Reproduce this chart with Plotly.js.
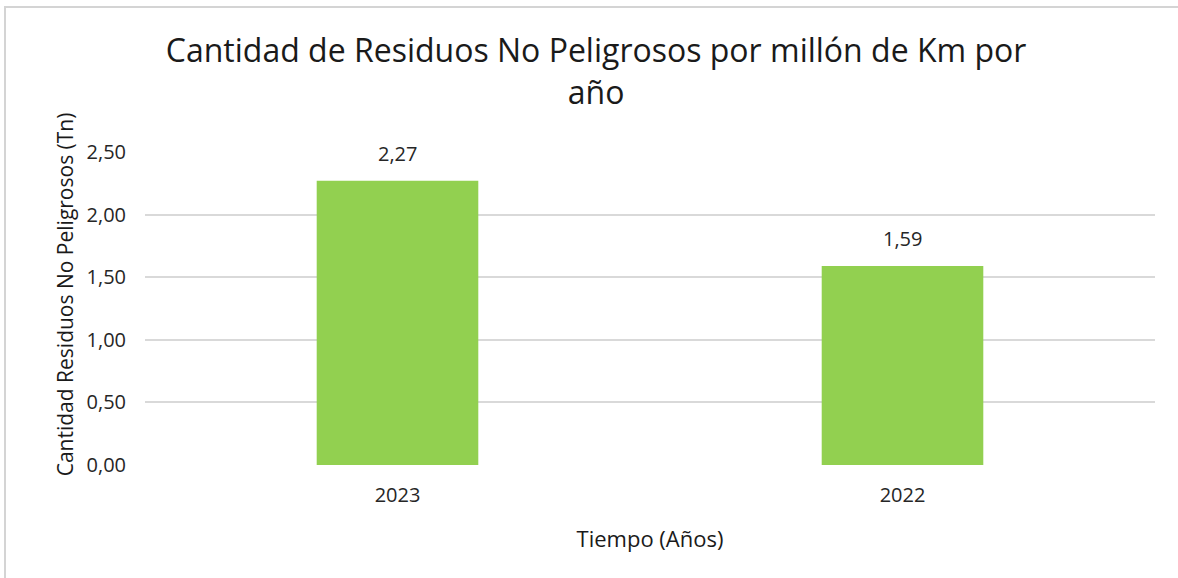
<!DOCTYPE html>
<html><head><meta charset="utf-8">
<script src="https://cdn.plot.ly/plotly-3.0.1.min.js"></script>
<style>
html,body{margin:0;padding:0;background:#fff;overflow:hidden}
#chart{width:1178px;height:578px}
#frame{position:absolute;z-index:10;left:4px;top:6px;width:1300px;height:700px;border-left:2px solid #d4d4d4;border-top:2px solid #d4d4d4;pointer-events:none}
</style></head>
<body>
<div id="chart"></div>
<div id="frame"></div>
<script>
const categories = ["2023", "2022"];
const values = [2.27, 1.59];
const yTicks = [0, 0.5, 1, 1.5, 2, 2.5];

const font = "Open Sans, Noto Sans, sans-serif";
const labelAnnotations = categories.map((c, i) => ({
  x: i, y: values[i], xref: "x", yref: "y",
  text: values[i].toFixed(2).replace(".", ","),
  showarrow: false, yanchor: "bottom", yshift: 12,
  font: {family: font, size: 20, color: "#262626"}
}));
labelAnnotations.push({
  xref: "paper", yref: "paper", x: -0.079, y: 0.546,
  xanchor: "center", yanchor: "middle", textangle: -90,
  text: "Cantidad Residuos No Peligrosos (Tn)", showarrow: false,
  font: {family: font, size: 21, color: "#1a1a1a"}
});

Plotly.newPlot("chart", [{
  type: "bar",
  x: categories,
  y: values,
  marker: {color: "#92D050"},
  hoverinfo: "none"
}], {
  width: 1178, height: 578,
  separators: ",.",
  margin: {l: 145, r: 23, t: 152, b: 113},
  paper_bgcolor: "#fff", plot_bgcolor: "#fff",
  bargap: 0.68,
  showlegend: false,
  annotations: labelAnnotations,
  title: {
    text: "Cantidad de Residuos No Peligrosos por millón de Km por<br>año",
    font: {family: font, size: 32, color: "#1a1a1a"},
    x: 0.506, xanchor: "center", y: 0.892, yanchor: "top"
  },
  xaxis: {
    type: "category",
    tickfont: {family: font, size: 20, color: "#262626"},
    showline: false, showgrid: false, ticks: "outside", ticklen: 12, tickcolor: "rgba(0,0,0,0)",
    title: {text: "Tiempo (Años)", font: {family: font, size: 22, color: "#1a1a1a"}, standoff: 24}
  },
  yaxis: {
    range: [0, 2.5],
    tickvals: yTicks,
    tickformat: ".2f",
    tickfont: {family: font, size: 20, color: "#262626"},
    gridcolor: "#d9d9d9", gridwidth: 2,
    zeroline: false, showline: false, ticks: "",
    ticklabelstandoff: 18
  }
}, {staticPlot: true});
</script>
</body></html>
